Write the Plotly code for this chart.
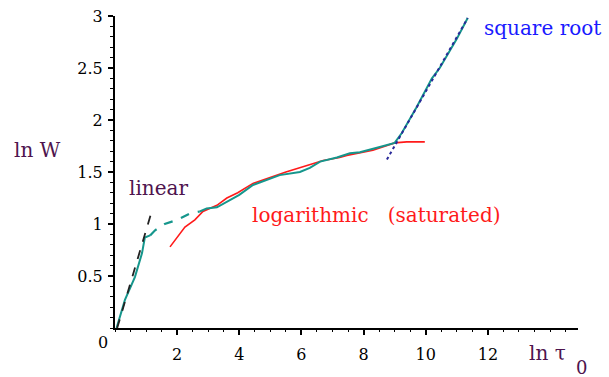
import plotly.graph_objects as go

# ---- data ----
teal_x_a = [0.05, 0.32, 0.64, 0.87, 0.96, 1.13]
teal_y_a = [0.0, 0.27, 0.49, 0.72, 0.87, 0.89]

teal_x_b = [1.13, 1.29, 1.6, 2.0, 2.4, 2.73]
teal_y_b = [0.89, 0.94, 1.0, 1.04, 1.1, 1.12]

teal_x_c = [2.73, 2.95, 3.28, 3.6, 4.0, 4.44, 5.3, 5.95, 6.27, 6.6, 7.14, 7.56,
            7.88, 8.52, 9.0, 9.23, 9.7, 10.2, 10.45, 11.0, 11.35]
teal_y_c = [1.12, 1.15, 1.16, 1.21, 1.28, 1.375, 1.47, 1.5, 1.54, 1.6, 1.64, 1.68,
            1.69, 1.74, 1.78, 1.875, 2.12, 2.4, 2.5, 2.78, 2.98]

log_x = [1.77, 2.0, 2.25, 2.57, 2.83, 3.28, 3.6, 3.95, 4.44, 5.5, 6.27, 6.7,
         7.23, 7.46, 8.3, 9.0, 9.39, 9.97]
log_y = [0.78, 0.87, 0.97, 1.04, 1.12, 1.18, 1.25, 1.3, 1.39, 1.5, 1.57, 1.61,
         1.64, 1.66, 1.71, 1.78, 1.79, 1.79]

lin_x = [0.07, 1.22]
lin_y = [0.0, 1.16]

sqrt_x = [8.75, 11.35]
sqrt_y = [1.62, 2.98]

x_ticks = [2, 4, 6, 8, 10, 12]
y_ticks = [0.5, 1, 1.5, 2, 2.5, 3]
y_tick_text = ["0.5", "1", "1.5", "2", "2.5", "3"]

TEAL = "#15968c"
RED = "#ff1a1a"
PURPLE = "#4e144e"
FONT = "DejaVu Serif"

fig = go.Figure()
fig.add_trace(go.Scatter(x=log_x, y=log_y, mode="lines",
                         line=dict(color=RED, width=1.6)))
fig.add_trace(go.Scatter(x=teal_x_a, y=teal_y_a, mode="lines",
                         line=dict(color=TEAL, width=2)))
fig.add_trace(go.Scatter(x=teal_x_b, y=teal_y_b, mode="lines",
                         line=dict(color=TEAL, width=2.2, dash="dash")))
fig.add_trace(go.Scatter(x=teal_x_c, y=teal_y_c, mode="lines",
                         line=dict(color=TEAL, width=2)))
fig.add_trace(go.Scatter(x=lin_x, y=lin_y, mode="lines",
                         line=dict(color="#222222", width=1.8, dash="dash")))
fig.add_trace(go.Scatter(x=sqrt_x, y=sqrt_y, mode="lines",
                         line=dict(color="#2a2a9a", width=2, dash="dot")))

# annotations inside the plotting area (data coordinates)
data_ann = [
    dict(x=0.39, y=1.346, text="linear", font=dict(color=PURPLE, size=20)),
    dict(x=4.34, y=1.087, text="logarithmic\u00a0\u00a0 (saturated)",
         font=dict(color=RED, size=20)),
    dict(x=11.8, y=2.885, text="square root", font=dict(color="#1a1aff", size=20)),
]
for a in data_ann:
    fig.add_annotation(xref="x", yref="y", showarrow=False, xanchor="left",
                       yanchor="middle", x=a["x"], y=a["y"], text=a["text"],
                       font=dict(family=FONT, **a["font"]))

# annotations outside the plotting area (paper coordinates)
paper_ann = [
    dict(x=-0.2225, y=0.57, text="ln W", font=dict(color=PURPLE, size=20)),
    dict(x=0.89, y=-0.080, text="ln \u03c4", font=dict(color=PURPLE, size=20)),
    dict(x=0.991, y=-0.128, text="0", font=dict(color=PURPLE, size=18)),
    dict(x=-0.041, y=-0.045, text="0", font=dict(color="black", size=16)),
]
for a in paper_ann:
    fig.add_annotation(xref="paper", yref="paper", showarrow=False, xanchor="left",
                       yanchor="middle", x=a["x"], y=a["y"], text=a["text"],
                       font=dict(family=FONT, **a["font"]))

fig.update_layout(
    width=609, height=377,
    margin=dict(l=115, r=31, t=16, b=49),
    paper_bgcolor="white", plot_bgcolor="white",
    showlegend=False,
    font=dict(family=FONT, size=16, color="black"),
    xaxis=dict(range=[0, 14.9], showgrid=False, zeroline=False, automargin=False,
               showline=True, linecolor="black", linewidth=2,
               tickmode="array", tickvals=x_ticks, ticks="outside",
               ticklen=5, tickwidth=2, tickcolor="black",
               ticklabelstandoff=6,
               minor=dict(dtick=0.5, ticks="outside", ticklen=2,
                          tickcolor="black", tickwidth=1)),
    yaxis=dict(range=[0, 3], showgrid=False, zeroline=False, automargin=False,
               showline=True, linecolor="black", linewidth=2,
               tickmode="array", tickvals=y_ticks, ticktext=y_tick_text,
               ticks="outside", ticklen=5, tickwidth=2, tickcolor="black",
               ticklabelstandoff=2,
               minor=dict(dtick=0.1, ticks="outside", ticklen=3,
                          tickcolor="black", tickwidth=1)),
)

fig.write_html("out.html", config={"displayModeBar": False},
               post_script="document.body.style.margin='0';document.body.style.overflow='hidden';")
